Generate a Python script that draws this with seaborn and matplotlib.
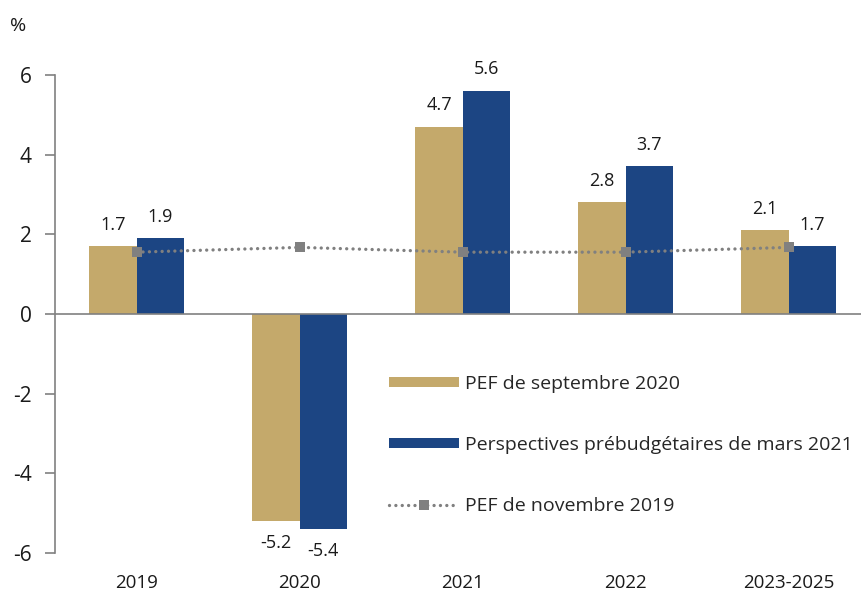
import numpy as np
import pandas as pd
import matplotlib
matplotlib.use("Agg")
import matplotlib.pyplot as plt
import seaborn as sns
from matplotlib.patches import Patch
from matplotlib.lines import Line2D

# Data
categories = ["2019", "2020", "2021", "2022", "2023-2025"]
pef_sept_2020 = [1.7, -5.2, 4.7, 2.8, 2.1]
prebudget_mars_2021 = [1.9, -5.4, 5.6, 3.7, 1.7]
pef_nov_2019 = [1.55, 1.67, 1.55, 1.55, 1.67]

series_names = ["PEF de septembre 2020", "Perspectives prébudgétaires de mars 2021",
                "PEF de novembre 2019"]
colors = ["#C4A96B", "#1C4583", "#808080"]

df = pd.DataFrame({
    "annee": categories * 2,
    "valeur": pef_sept_2020 + prebudget_mars_2021,
    "serie": [series_names[0]] * 5 + [series_names[1]] * 5,
})

sns.set_style("white")
plt.rcParams["font.family"] = ["Open Sans", "DejaVu Sans"]
plt.rcParams["axes.unicode_minus"] = False

fig = plt.figure(figsize=(8.62, 5.94), dpi=100)
ax = fig.add_axes([0.064, 0.069, 0.936, 0.805])

sns.barplot(data=df, x="annee", y="valeur", hue="serie", order=categories,
            hue_order=series_names[:2], palette=colors[:2], width=0.58, gap=0,
            saturation=1, linewidth=0, legend=False, ax=ax)

# Value labels
for cont in ax.containers:
    ax.bar_label(cont, labels=[f"{b.get_height():.1f}" for b in cont],
                 padding=9, fontsize=13, color="#1a1a1a")

# Dotted line
dot_style = (0, (0.01, 1.9))
sns.pointplot(x=categories, y=pef_nov_2019, order=categories, color=colors[2],
              markers="s", linestyles=dot_style, markersize=7.5, linewidth=2.4,
              errorbar=None, ax=ax, zorder=5)
for ln in ax.lines:
    ln.set_dash_capstyle("round")
    ln.set_markeredgewidth(0)

ax.set_ylim(-6, 6)
ax.set_xlim(-0.5, 4.45)
ax.set_yticks([-6, -4, -2, 0, 2, 4, 6])
ax.set_xlabel("")
ax.set_ylabel("")

for s in ["top", "right", "bottom"]:
    ax.spines[s].set_visible(False)
ax.spines["left"].set_color("#808080")
ax.spines["left"].set_linewidth(1.2)
ax.axhline(0, color="#808080", linewidth=1.2, zorder=3)

ax.tick_params(axis="y", left=True, length=7, width=1.2, color="#808080",
               labelsize=15, pad=10, labelcolor="#1a1a1a")
ax.tick_params(axis="x", bottom=False, length=0, labelsize=13.5, pad=15,
               labelcolor="#1a1a1a")

fig.text(0.012, 0.957, "%", fontsize=14, color="#1a1a1a", va="center")

# Legend
handles = [
    Patch(facecolor=colors[0], linewidth=0),
    Patch(facecolor=colors[1], linewidth=0),
    Line2D([], [], color=colors[2], linestyle=dot_style, linewidth=2.4, marker="s",
           markersize=7.5, markeredgewidth=0, dash_capstyle="round"),
]
ax.legend(handles, series_names, loc="upper left",
          bbox_to_anchor=(389 / 862, 1 - 375 / 594), bbox_transform=fig.transFigure,
          frameon=False, fontsize=14, labelspacing=2.2, handlelength=3.6,
          handleheight=0.42, handletextpad=0.3, borderaxespad=0, borderpad=0)

fig.savefig("out.png", dpi=100)
